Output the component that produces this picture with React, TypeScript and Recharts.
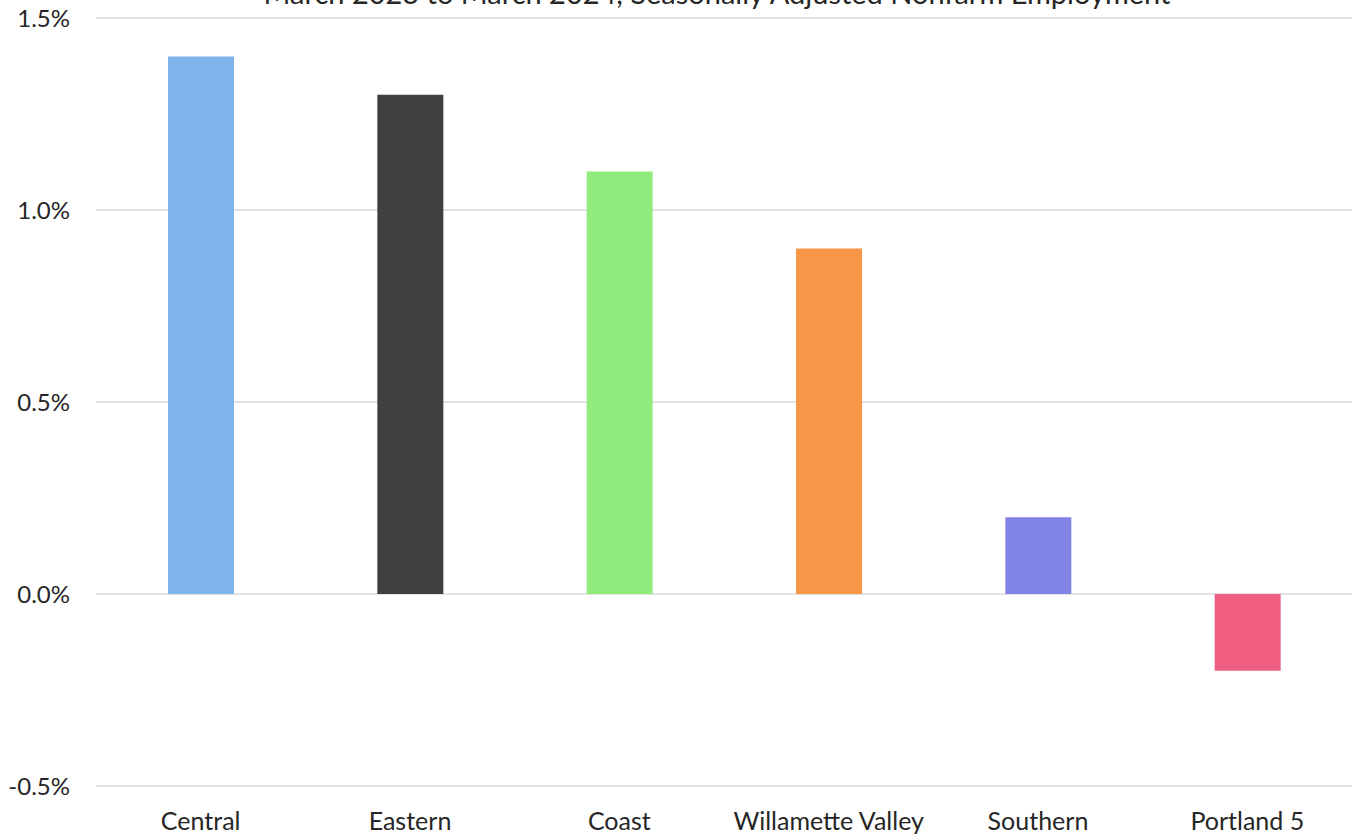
import React from 'react';
import { BarChart, Bar, XAxis, YAxis, CartesianGrid, Cell } from 'recharts';

const regions = ['Central', 'Eastern', 'Coast', 'Willamette Valley', 'Southern', 'Portland 5'];
const growth = [1.4, 1.3, 1.1, 0.9, 0.2, -0.2];
const barColors = ['#7EB5EC', '#404040', '#8FEB7B', '#F79646', '#8285E8', '#F05F81'];
const yTicks = [-0.5, 0, 0.5, 1.0, 1.5];
const title = 'March 2023 to March 2024, Seasonally Adjusted Nonfarm Employment';

const data = regions.map((region, i) => ({ region, value: growth[i] }));

const font = 'Lato, "Open Sans", sans-serif';

const App: React.FC = () => {
  return (
    <div style={{ position: 'absolute', top: 0, left: 0, width: 1365, height: 836, background: '#fff' }}>
      <BarChart
        width={1365}
        height={836}
        data={data}
        margin={{ top: 18, right: 13, left: 0, bottom: 0 }}
      >
        {/* title sits mostly above the visible area, as in the source image */}
        <text x={717} y={4} textAnchor="middle" fontSize={29} fill="#262626" fontFamily={font}>
          {title}
        </text>
        <CartesianGrid vertical={false} stroke="#D9D9D9" strokeWidth={1.5} />
        <XAxis
          dataKey="region"
          height={50}
          axisLine={false}
          tickLine={false}
          interval={0}
          tickMargin={20}
          tick={{ fontSize: 25, fill: '#262626', fontFamily: font }}
        />
        <YAxis
          width={96}
          domain={[-0.5, 1.5]}
          ticks={yTicks}
          axisLine={false}
          tickLine={false}
          tickMargin={20}
          tickFormatter={(v: number) => `${v.toFixed(1)}%`}
          tick={{ fontSize: 24, fill: '#262626', fontFamily: font }}
        />
        <Bar dataKey="value" barSize={66} isAnimationActive={false}>
          {data.map((d, i) => (
            <Cell key={d.region} fill={barColors[i]} />
          ))}
        </Bar>
      </BarChart>
    </div>
  );
};

export default App;
